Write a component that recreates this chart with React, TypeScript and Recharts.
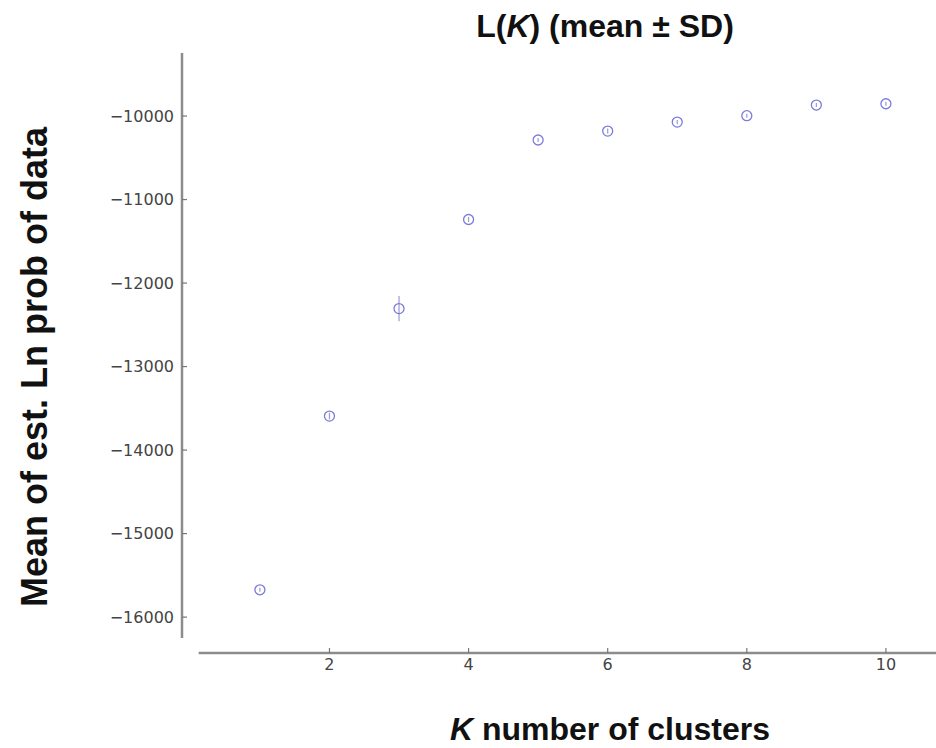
import { ScatterChart, Scatter, XAxis, YAxis, ErrorBar, ReferenceLine } from 'recharts'

// K = 1..10, mean of est. Ln prob of data, with SD
const kValues = [1, 2, 3, 4, 5, 6, 7, 8, 9, 10]
const meanLnP = [-15673, -13593, -12306, -11239, -10287, -10180, -10072, -9996, -9868, -9853]
const sdLnP = [25, 40, 150, 30, 25, 30, 25, 25, 25, 25]

const xTicks = [2, 4, 6, 8, 10]
const yTicks = [-16000, -15000, -14000, -13000, -12000, -11000, -10000]

const X_DOMAIN: [number, number] = [-0.12, 10.72]
const Y_DOMAIN: [number, number] = [-16430, -9245]

// detached spines, like the matplotlib original
const ySpine = [{ x: -0.12, y: -16250 }, { x: -0.12, y: -9245 }]
const xSpine = [{ x: 0.12, y: -16430 }, { x: 10.72, y: -16430 }]

const data = kValues.map((k, i) => ({ k, mean: meanLnP[i], sd: sdLnP[i] }))

const SPINE = '#8c8c8c'
const MARKER = '#7b7bdc'
const SANS = '"Liberation Sans", Arial, sans-serif'

const fmt = (v: number) => String(v).replace('-', '\u2212')

const Ring = (p: any) => (
  <circle cx={p.cx} cy={p.cy} r={5} fill="none" stroke={MARKER} strokeWidth={1.3} />
)

export default function App() {
  return (
    <div style={{ position: 'absolute', left: 0, top: 0, width: 936, height: 748, background: '#fff' }}>
      <ScatterChart width={936} height={748} margin={{ top: 53, right: 0, bottom: 0, left: 0 }}>
        <XAxis
          type="number"
          dataKey="k"
          domain={X_DOMAIN}
          ticks={xTicks}
          allowDataOverflow
          height={95}
          axisLine={false}
          tickSize={-5}
          tickMargin={11}
          tickLine={{ stroke: '#777', strokeWidth: 1.2 }}
          tick={{ fontSize: 16, fill: '#444', fontFamily: '"DejaVu Sans", sans-serif' }}
        />
        <YAxis
          type="number"
          dataKey="mean"
          domain={Y_DOMAIN}
          ticks={yTicks}
          allowDataOverflow
          width={182}
          axisLine={false}
          tickSize={-5}
          tickMargin={13}
          tickLine={{ stroke: '#777', strokeWidth: 1.2 }}
          tickFormatter={fmt}
          tick={{ fontSize: 16, fill: '#444', fontFamily: '"DejaVu Sans", sans-serif' }}
        />
        <ReferenceLine segment={ySpine} stroke={SPINE} strokeWidth={2.5} ifOverflow="visible" />
        <ReferenceLine segment={xSpine} stroke={SPINE} strokeWidth={2.5} ifOverflow="visible" />
        <Scatter data={data} shape={Ring} isAnimationActive={false}>
          <ErrorBar dataKey="sd" direction="y" width={0} stroke="#9a9ad4" strokeWidth={1.2} />
        </Scatter>
      </ScatterChart>

      {/* titles drawn as plain svg text over the chart */}
      <svg width={936} height={748} style={{ position: 'absolute', left: 0, top: 0, pointerEvents: 'none' }}>
        <text x={605} y={37} textAnchor="middle" fontFamily={SANS} fontWeight="bold" fontSize={32} fill="#111">
          L(<tspan fontStyle="italic">K</tspan>) (mean ± SD)
        </text>
        <text x={610} y={740} textAnchor="middle" fontFamily={SANS} fontWeight="bold" fontSize={32} fill="#111">
          <tspan fontStyle="italic">K</tspan> number of clusters
        </text>
        <text
          x={34}
          y={367}
          transform="rotate(-90 34 367)"
          textAnchor="middle"
          dominantBaseline="central"
          fontFamily={SANS}
          fontWeight="bold"
          fontSize={36}
          fill="#111"
        >
          Mean of est. Ln prob of data
        </text>
      </svg>
    </div>
  )
}
